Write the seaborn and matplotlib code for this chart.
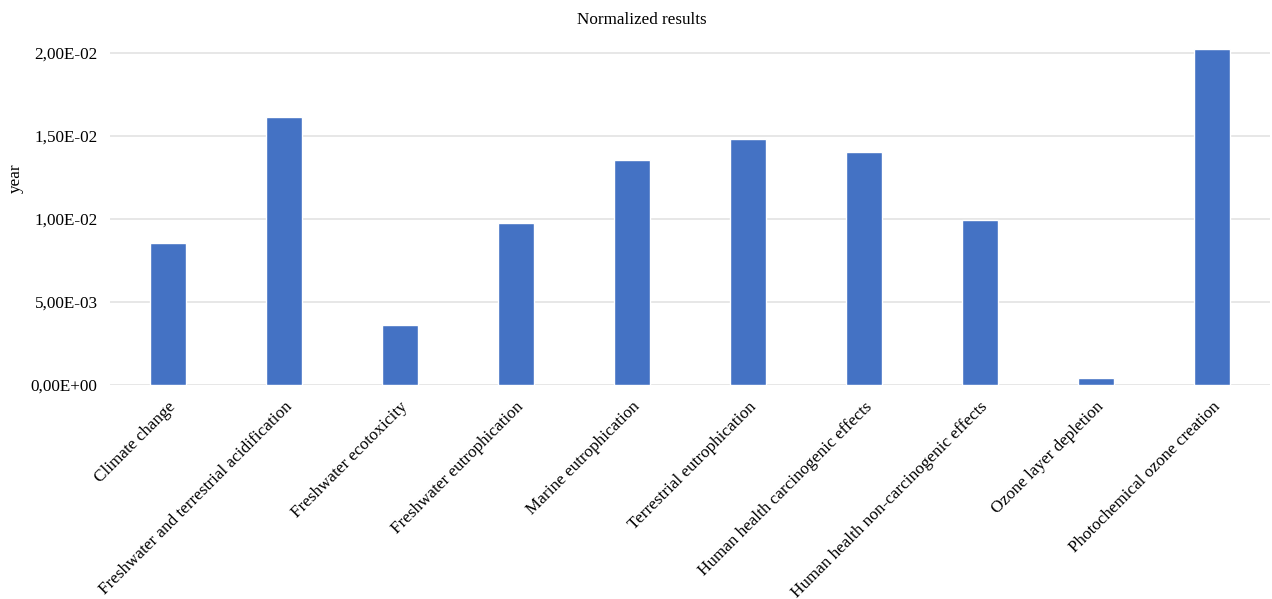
import matplotlib
matplotlib.use("Agg")
import matplotlib.pyplot as plt
import seaborn as sns
import pandas as pd
from matplotlib.ticker import FuncFormatter, FixedLocator

categories = [
    "Climate change",
    "Freshwater and terrestrial acidification",
    "Freshwater ecotoxicity",
    "Freshwater eutrophication",
    "Marine eutrophication",
    "Terrestrial eutrophication",
    "Human health carcinogenic effects",
    "Human health non-carcinogenic effects",
    "Ozone layer depletion",
    "Photochemical ozone creation",
]
values = [0.00855, 0.01614, 0.00361, 0.00976, 0.01355, 0.01482, 0.01404, 0.00994, 0.00040, 0.02024]
yticks = [0.0, 0.005, 0.010, 0.015, 0.020]

df = pd.DataFrame({"category": categories, "value": values})

sns.set_theme(style="white")
plt.rcParams["font.family"] = ["Liberation Serif", "DejaVu Serif"]

FS = 12.3
ytop = 0.0204
fig = plt.figure(figsize=(12.72, 5.99), dpi=100)
h = 332 * ytop / 0.02
ax = fig.add_axes([110 / 1272, 1 - 385 / 599, 1160 / 1272, h / 599])

sns.barplot(data=df, x="category", y="value", color="#4472C4", width=0.31,
            saturation=1, ax=ax, zorder=3)

ax.set_ylim(0, ytop)
ax.yaxis.set_major_locator(FixedLocator(yticks))
ax.yaxis.set_major_formatter(FuncFormatter(lambda v, p: f"{v:.2E}".replace(".", ",")))
ax.grid(axis="y", color="#E3E3E3", linewidth=1.2, zorder=0)
ax.set_axisbelow(True)
for s in ax.spines.values():
    s.set_visible(False)
ax.tick_params(axis="both", length=0, labelsize=FS, colors="black")
ax.tick_params(axis="y", pad=9)
ax.tick_params(axis="x", pad=10)
ax.set_xlabel("")
ax.set_ylabel("year", fontsize=FS, color="black")
ax.yaxis.set_label_coords(-86 / 1160, (385 - 178) / h)
fig.text(642 / 1272, 1 - 20 / 599, "Normalized results", fontsize=FS, color="black",
         ha="center", va="center")
plt.setp(ax.get_xticklabels(), rotation=45, ha="right", rotation_mode="anchor")
ax.set_xlim(-0.5, len(categories) - 0.5)

fig.savefig("out.png", dpi=100)
